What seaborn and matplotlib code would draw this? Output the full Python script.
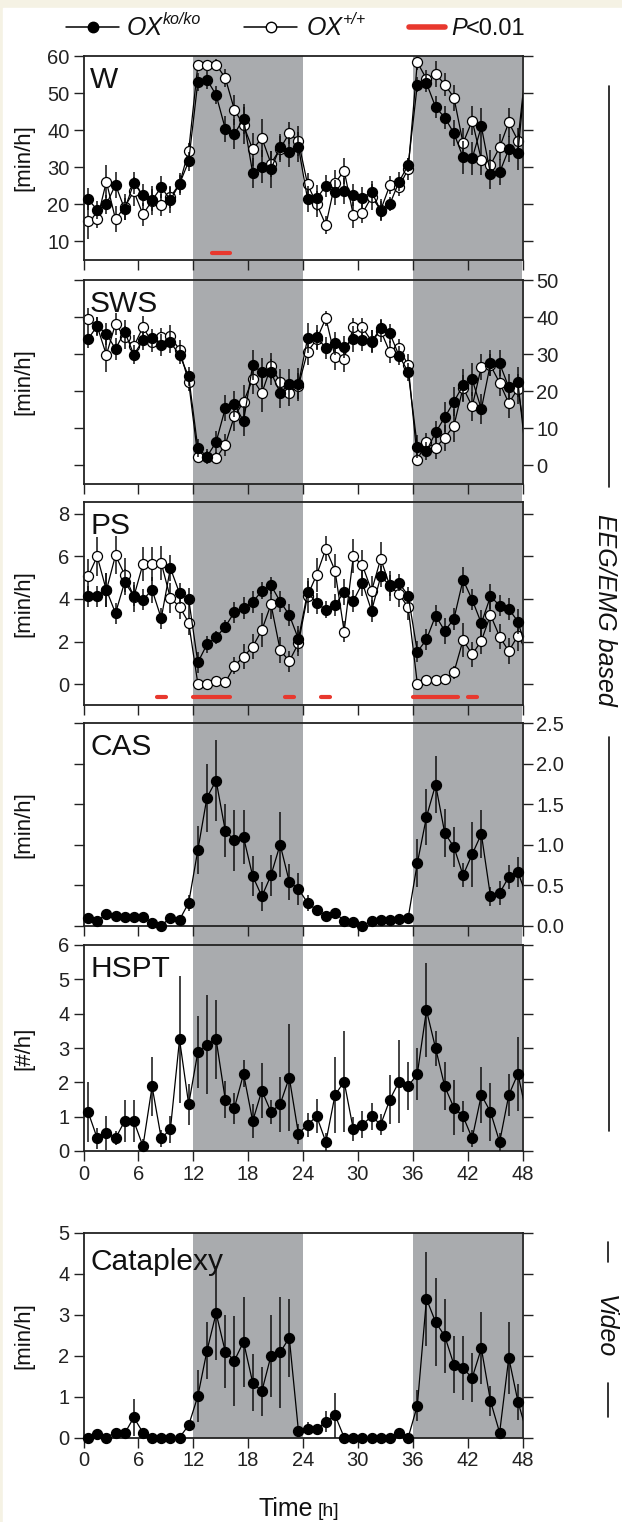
import numpy as np
import matplotlib
matplotlib.use("Agg")
import matplotlib.pyplot as plt
import seaborn as sns
from matplotlib.lines import Line2D
from matplotlib.patches import Rectangle

# hourly bins (centres); the 49th value only carries the line out of the frame
hours = np.arange(49) + 0.5

w_ko = [21.4, 18.5, 20.0, 25.3, 18.7, 25.7, 22.5, 21.1, 24.6, 21.2, 25.5, 31.6,
        53.0, 53.6, 49.5, 40.4, 39.0, 43.1, 28.4, 30.2, 29.5, 35.4, 34.1, 35.5,
        21.4, 21.6, 25.0, 23.2, 23.6, 22.5, 21.8, 23.4, 18.3, 20.1, 26.1, 30.6,
        52.3, 52.7, 46.2, 43.4, 39.2, 32.7, 32.4, 41.0, 28.2, 28.6, 34.9, 33.8, 60.0]
w_ko_err = [3.0, 2.5, 2.5, 3.5, 3.0, 3.0, 3.0, 3.0, 3.0, 3.5, 2.5, 2.5,
            2.5, 2.5, 2.5, 3.5, 4.0, 4.0, 4.0, 4.5, 5.0, 3.5, 4.0, 4.0,
            3.5, 3.5, 3.0, 3.5, 3.5, 3.0, 3.0, 3.0, 2.5, 2.0, 2.5, 2.0,
            2.0, 2.5, 3.0, 3.0, 3.5, 4.5, 4.5, 5.0, 4.0, 3.5, 3.5, 4.5]
w_wt = [15.6, 16.0, 26.1, 16.0, 19.3, 23.5, 17.3, 21.0, 19.8, 22.0, 25.5, 34.5,
        57.5, 57.5, 57.7, 54.1, 45.5, 41.3, 34.8, 37.9, 31.0, 35.0, 39.2, 37.0,
        25.4, 20.1, 14.4, 25.7, 29.1, 17.1, 17.6, 22.0, 18.5, 25.2, 24.8, 29.5,
        58.3, 53.8, 55.2, 52.3, 48.8, 36.5, 42.6, 32.0, 30.6, 35.4, 42.1, 37.2, 60.0]
w_wt_err = [5.0, 2.5, 4.5, 3.5, 3.5, 4.0, 3.0, 4.0, 3.0, 3.0, 3.0, 2.0,
            1.5, 1.5, 1.5, 2.5, 4.0, 5.0, 4.5, 5.0, 3.5, 3.5, 3.0, 4.0,
            3.0, 3.5, 2.5, 3.5, 3.5, 3.5, 2.5, 3.5, 3.0, 2.5, 2.5, 3.0,
            2.0, 2.5, 3.5, 3.0, 3.5, 4.0, 4.0, 4.0, 4.0, 3.5, 4.0, 3.5]

sws_ko = [34.1, 37.6, 35.5, 31.4, 36.1, 29.9, 33.7, 34.3, 32.5, 33.2, 29.8, 24.0,
          4.7, 2.4, 6.3, 15.4, 16.5, 11.9, 27.1, 25.1, 25.1, 19.6, 21.9, 21.9,
          34.3, 34.5, 31.7, 32.9, 32.0, 34.1, 33.8, 33.4, 37.0, 35.6, 29.6, 25.2,
          5.1, 3.9, 8.9, 13.0, 17.2, 21.6, 23.2, 15.2, 27.5, 27.5, 21.1, 22.5, 0.0]
sws_ko_err = [2.5, 2.5, 3.0, 3.0, 3.0, 2.5, 2.5, 2.5, 3.0, 3.0, 2.5, 2.5,
              2.5, 2.0, 3.0, 3.5, 3.5, 4.0, 4.0, 4.0, 3.5, 4.0, 4.0, 4.5,
              4.0, 3.5, 3.0, 3.0, 3.0, 3.5, 3.0, 3.0, 2.5, 2.5, 2.5, 2.5,
              3.0, 2.5, 3.0, 4.0, 4.0, 4.5, 4.5, 4.0, 3.5, 3.5, 3.5, 4.0]
sws_wt = [39.5, 37.5, 29.8, 38.2, 34.5, 32.1, 37.3, 33.2, 34.6, 34.8, 31.2, 22.5,
          2.4, 2.4, 2.0, 5.6, 13.3, 17.1, 23.3, 19.5, 26.7, 22.5, 19.6, 21.5,
          30.7, 34.0, 39.7, 29.3, 28.8, 37.2, 37.2, 33.5, 36.3, 30.5, 31.7, 27.0,
          1.6, 6.3, 4.8, 7.5, 10.7, 21.0, 15.9, 26.6, 27.0, 22.3, 16.8, 20.7, 5.0]
sws_wt_err = [3.0, 2.5, 4.5, 3.0, 3.0, 3.0, 3.0, 2.5, 2.5, 3.0, 2.5, 2.5,
              1.5, 1.5, 1.5, 3.0, 4.0, 4.5, 4.0, 5.0, 3.5, 3.5, 3.5, 3.5,
              3.5, 2.5, 2.0, 3.5, 3.5, 2.5, 2.5, 3.0, 3.0, 3.0, 2.5, 3.0,
              1.5, 2.5, 3.0, 3.5, 4.5, 3.5, 4.0, 3.5, 3.0, 3.5, 4.0, 4.0]

ps_ko = [4.12, 4.12, 4.43, 3.33, 4.79, 4.15, 3.96, 4.43, 3.09, 5.45, 4.27, 4.0,
         1.02, 1.87, 2.2, 2.7, 3.38, 3.57, 3.85, 4.38, 4.64, 3.88, 3.25, 2.12,
         4.32, 3.8, 3.49, 3.72, 4.32, 3.91, 4.75, 3.44, 5.06, 4.64, 4.75, 4.16,
         1.52, 2.1, 3.22, 2.5, 3.06, 4.9, 3.96, 2.86, 4.12, 3.69, 3.53, 2.94, 1.5]
ps_ko_err = [0.5, 0.5, 0.8, 0.5, 0.6, 0.5, 0.5, 0.6, 0.5, 0.6, 0.5, 0.5,
             0.5, 0.4, 0.3, 0.3, 0.5, 0.5, 0.5, 0.4, 0.4, 0.5, 0.5, 0.6,
             0.5, 0.5, 0.4, 0.5, 0.6, 0.5, 0.6, 0.5, 0.5, 0.5, 0.4, 0.4,
             0.5, 0.5, 0.5, 0.6, 0.5, 0.6, 0.5, 0.6, 0.6, 0.5, 0.5, 0.6]
ps_wt = [5.06, 6.0, 4.4, 6.05, 5.14, 4.1, 5.64, 5.64, 5.69, 4.04, 3.64, 2.89,
         0.03, 0.0, 0.14, 0.08, 0.86, 1.29, 1.76, 2.54, 3.75, 1.6, 1.08, 1.92,
         4.16, 5.14, 6.36, 5.33, 2.47, 6.0, 5.58, 4.38, 5.89, 4.6, 4.23, 3.6,
         0.03, 0.19, 0.22, 0.26, 0.55, 2.07, 1.4, 2.03, 3.25, 2.23, 1.55, 2.28, 1.5]
ps_wt_err = [0.8, 0.9, 0.8, 0.9, 0.8, 0.7, 0.8, 0.8, 0.8, 0.7, 0.6, 0.6,
             0.1, 0.1, 0.2, 0.2, 0.4, 0.6, 0.6, 0.8, 0.7, 0.6, 0.5, 0.6,
             0.8, 0.8, 0.6, 0.8, 0.5, 0.8, 0.7, 0.7, 0.8, 0.7, 0.6, 0.6,
             0.1, 0.2, 0.2, 0.2, 0.3, 0.8, 0.6, 0.6, 0.8, 0.6, 0.6, 0.7]

cas = [0.095, 0.055, 0.14, 0.12, 0.11, 0.11, 0.11, 0.03, 0.0, 0.095, 0.07, 0.28,
       0.93, 1.58, 1.79, 1.17, 1.05, 1.09, 0.61, 0.36, 0.62, 1.0, 0.54, 0.45,
       0.28, 0.19, 0.12, 0.16, 0.055, 0.04, 0.0, 0.055, 0.07, 0.07, 0.08, 0.095,
       0.77, 1.34, 1.74, 1.14, 0.97, 0.62, 0.88, 1.13, 0.36, 0.40, 0.60, 0.66, 0.35]
cas_err = [0.04, 0.03, 0.06, 0.04, 0.04, 0.04, 0.04, 0.03, 0.03, 0.04, 0.04, 0.10,
           0.30, 0.42, 0.50, 0.33, 0.38, 0.33, 0.25, 0.18, 0.25, 0.40, 0.22, 0.20,
           0.10, 0.06, 0.05, 0.06, 0.03, 0.03, 0.03, 0.03, 0.03, 0.03, 0.03, 0.04,
           0.30, 0.35, 0.35, 0.30, 0.25, 0.15, 0.40, 0.30, 0.12, 0.15, 0.15, 0.18]

hspt = [1.14, 0.37, 0.53, 0.37, 0.87, 0.87, 0.14, 1.88, 0.37, 0.63, 3.25, 1.36,
        2.88, 3.10, 3.25, 1.50, 1.25, 2.25, 0.87, 1.76, 1.14, 1.36, 2.14, 0.50,
        0.77, 1.01, 0.26, 1.63, 2.02, 0.63, 0.77, 1.01, 0.77, 1.50, 2.02, 1.88,
        2.25, 4.10, 2.99, 1.88, 1.26, 1.01, 0.37, 1.63, 1.14, 0.26, 1.63, 2.25, 1.0]
hspt_err = [0.88, 0.30, 0.50, 0.20, 0.62, 0.62, 0.20, 0.85, 0.25, 0.40, 1.85, 0.60,
            1.05, 1.45, 1.15, 0.55, 0.45, 0.40, 0.50, 0.80, 0.35, 0.80, 1.55, 0.30,
            0.35, 0.50, 0.25, 1.10, 1.47, 0.35, 0.40, 0.40, 0.30, 0.70, 1.20, 0.70,
            0.75, 1.37, 0.50, 0.70, 0.80, 0.45, 0.25, 0.82, 0.85, 0.25, 0.60, 1.08]

cat = [0.0, 0.08, 0.0, 0.12, 0.10, 0.49, 0.12, 0.0, 0.0, 0.0, 0.0, 0.30,
       1.01, 2.12, 3.04, 2.10, 1.88, 2.34, 1.34, 1.13, 2.00, 2.08, 2.44, 0.16,
       0.22, 0.20, 0.39, 0.55, 0.0, 0.0, 0.0, 0.0, 0.0, 0.0, 0.12, 0.0,
       0.78, 3.39, 2.82, 2.48, 1.78, 1.69, 1.46, 2.18, 0.89, 0.12, 1.95, 0.88, 0.1]
cat_err = [0.02, 0.04, 0.02, 0.05, 0.05, 0.45, 0.05, 0.02, 0.02, 0.02, 0.02, 0.10,
           0.63, 0.70, 1.15, 0.90, 1.10, 1.10, 0.70, 0.60, 1.00, 1.35, 0.95, 0.08,
           0.15, 0.10, 0.25, 0.55, 0.02, 0.02, 0.02, 0.02, 0.02, 0.02, 0.06, 0.02,
           0.38, 1.15, 1.08, 0.90, 0.70, 0.78, 0.60, 0.88, 0.37, 0.05, 0.88, 0.44]

# P<0.01 intervals (h) and the level where the red bar sits
sig_w = [(14, 16)]
sig_w_level = 7.0
sig_ps = [(8, 9), (12, 16), (22, 23), (26, 27), (36, 41), (42, 43)]
sig_ps_level = -0.6

dark_phases = [(12, 24), (36, 48)]

FIG_W, FIG_H = 622, 1522
LEFT, RIGHT = 83.5, 522.5
SHADE = '#a9abae'
RED = '#e8382e'
CREAM = '#f5f2e4'
INK = '#111111'

sns.set_theme(style='ticks')
plt.rcParams['font.family'] = ['Liberation Sans', 'DejaVu Sans']


def rect(top, bottom):
    return [LEFT / FIG_W, 1 - bottom / FIG_H, (RIGHT - LEFT) / FIG_W, (bottom - top) / FIG_H]


def fx(px):
    return px / FIG_W


def fy(py):
    return 1 - py / FIG_H


def draw_series(ax, y, err, filled, z):
    y = np.asarray(y)
    n = len(err)
    ax.errorbar(hours[:n], y[:n], yerr=err, fmt='none', ecolor=INK,
                elinewidth=1.1, capsize=0, zorder=z)
    sns.lineplot(x=hours, y=y, ax=ax, color='black', linewidth=0.9,
                 errorbar=None, sort=False, zorder=z + 0.1)
    sns.scatterplot(x=hours[:n], y=y[:n], ax=ax, s=52,
                    color='black' if filled else 'white', edgecolor='black',
                    linewidth=0.9, zorder=z + 0.2, clip_on=False, legend=False)


def style_panel(ax, label, ylim, yticks, right_labels=False, xlabels=False,
                fmt='{:g}', label_gap=10):
    ax.set_facecolor('none')
    ax.set_xlim(0, 48)
    ax.set_ylim(*ylim)
    ax.set_xticks(range(0, 49, 6))
    ax.set_yticks(yticks)
    ax.set_yticklabels([fmt.format(t) for t in yticks])
    ax.set_xlabel('')
    ax.set_ylabel('')
    ax.tick_params(axis='x', direction='out', length=7, width=1.0,
                   labelsize=14.5, labelbottom=xlabels, pad=3, colors='#222222')
    ax.tick_params(axis='y', direction='out', length=7, width=1.0,
                   labelsize=14.5, left=True, right=True,
                   labelleft=not right_labels, labelright=right_labels,
                   pad=3, colors='#222222')
    for sp in ax.spines.values():
        sp.set_visible(True)
        sp.set_linewidth(1.3)
        sp.set_color('#222222')
    h = ax.get_position().height * FIG_H
    ax.text(0.015, 1 - label_gap / h, label, transform=ax.transAxes,
            ha='left', va='top', fontsize=21.5, color=INK)


fig = plt.figure(figsize=(FIG_W / 100, FIG_H / 100), dpi=100, facecolor=CREAM)
fig.patches.append(Rectangle((fx(3), 0), 1, fy(8),
                             transform=fig.transFigure, color='white', zorder=-20))

# continuous night shading behind the EEG/EMG panels
bg = fig.add_axes(rect(56, 1151))
bg.set_xlim(0, 48)
for a, b in dark_phases:
    bg.axvspan(a, b, color=SHADE, lw=0)
bg.axis('off')

panels = {
    'W': (56, 260), 'SWS': (280, 484), 'PS': (502, 705.5),
    'CAS': (723, 925.5), 'HSPT': (945, 1151), 'Cataplexy': (1233, 1437.5),
}
axes = {k: fig.add_axes(rect(*v)) for k, v in panels.items()}

ax = axes['W']
draw_series(ax, w_wt, w_wt_err, False, 2)
draw_series(ax, w_ko, w_ko_err, True, 3)
for a, b in sig_w:
    ax.plot([a, b], [sig_w_level] * 2, color=RED, lw=3, solid_capstyle='round', zorder=5)
style_panel(ax, 'W', (5, 60), range(10, 61, 10))

ax = axes['SWS']
draw_series(ax, sws_wt, sws_wt_err, False, 2)
draw_series(ax, sws_ko, sws_ko_err, True, 3)
style_panel(ax, 'SWS', (-5, 50), range(0, 51, 10), right_labels=True)

ax = axes['PS']
draw_series(ax, ps_wt, ps_wt_err, False, 2)
draw_series(ax, ps_ko, ps_ko_err, True, 3)
for a, b in sig_ps:
    ax.plot([a, b], [sig_ps_level] * 2, color=RED, lw=3, solid_capstyle='round', zorder=5)
style_panel(ax, 'PS', (-1, 8.55), range(0, 9, 2))

ax = axes['CAS']
draw_series(ax, cas, cas_err, True, 3)
style_panel(ax, 'CAS', (0, 2.5), [0, 0.5, 1.0, 1.5, 2.0, 2.5], right_labels=True, fmt='{:.1f}')

ax = axes['HSPT']
draw_series(ax, hspt, hspt_err, True, 3)
style_panel(ax, 'HSPT', (0, 6), range(0, 7), xlabels=True)

ax = axes['Cataplexy']
for a, b in dark_phases:
    ax.axvspan(a, b, color=SHADE, lw=0, zorder=0)
draw_series(ax, cat, cat_err, True, 3)
style_panel(ax, 'Cataplexy', (0, 5), range(0, 6), xlabels=True, label_gap=15)

# y labels
for k, (top, bottom) in panels.items():
    fig.text(fx(24), fy((top + bottom) / 2), '[#/h]' if k == 'HSPT' else '[min/h]',
             rotation=90, ha='center', va='center', fontsize=16, color=INK)

# x label
fig.text(fx(313), fy(1516), 'Time', ha='right', va='baseline', fontsize=18, color=INK)
fig.text(fx(318), fy(1516), '[h]', ha='left', va='baseline', fontsize=14, color=INK)


# side annotations
def vline(x, y0, y1):
    fig.add_artist(Line2D([fx(x)] * 2, [fy(y0), fy(y1)],
                          transform=fig.transFigure, color=INK, lw=1.2))


vline(609, 86, 487)
vline(609, 737, 1131)
fig.text(fx(605), fy(610), 'EEG/EMG based', rotation=-90, ha='center',
         va='center', fontsize=18, style='italic', color=INK)
vline(608, 1242, 1262)
vline(608, 1383, 1417)
fig.text(fx(605), fy(1327), 'Video', rotation=-90, ha='center',
         va='center', fontsize=18, style='italic', color=INK)


# legend, drawn by hand so the red key can be shorter than the marker keys
def legend_key(x0, x1, **kw):
    fig.add_artist(Line2D([fx(x0), fx(x1)], [fy(27)] * 2, transform=fig.transFigure, **kw))


legend_key(66, 119, color='black', lw=1.1)
fig.add_artist(Line2D([fx(92.5)], [fy(27)], transform=fig.transFigure, marker='o',
                      ms=7.5, mfc='black', mec='black', lw=0))
fig.text(fx(127), fy(35), 'OX', style='italic', fontsize=18, va='baseline', color=INK)
fig.text(fx(163), fy(24), 'ko/ko', style='italic', fontsize=11.5, va='baseline', color=INK)

legend_key(244, 297, color='black', lw=1.1)
fig.add_artist(Line2D([fx(270.5)], [fy(27)], transform=fig.transFigure, marker='o',
                      ms=7.5, mfc='white', mec='black', mew=1.0, lw=0))
fig.text(fx(307), fy(35), 'OX', style='italic', fontsize=18, va='baseline', color=INK)
fig.text(fx(343), fy(24), '+/+', style='italic', fontsize=11.5, va='baseline', color=INK)

legend_key(409, 445, color=RED, lw=4, solid_capstyle='round')
fig.text(fx(451), fy(35), 'P', style='italic', fontsize=17, va='baseline', color=INK)
fig.text(fx(466), fy(35), '<0.01', fontsize=17, va='baseline', color=INK)

fig.savefig('out.png', dpi=100, facecolor=CREAM)
